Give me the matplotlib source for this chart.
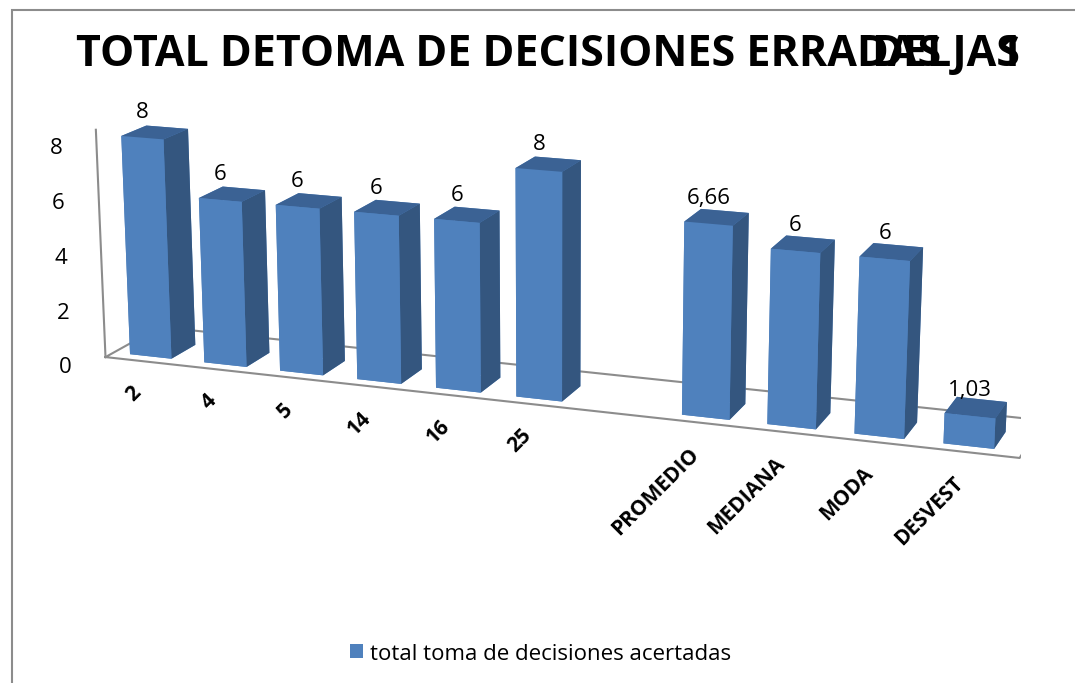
import numpy as np
import matplotlib.pyplot as plt
from matplotlib.patches import Rectangle
from matplotlib.transforms import IdentityTransform
from mpl_toolkits.mplot3d import proj3d

# data
categories = ['2', '4', '5', '14', '16', '25', 'PROMEDIO', 'MEDIANA', 'MODA', 'DESVEST']
values = [8, 6, 6, 6, 6, 8, 6.66, 6, 6, 1.03]
value_labels = ['8', '6', '6', '6', '6', '8', '6,66', '6', '6', '1,03']
slots = [0, 1, 2, 3, 4, 5, 7, 8, 9, 10]   # empty slot between 25 and PROMEDIO
yticks = [0, 2, 4, 6, 8]

plt.rcParams['font.family'] = ['Open Sans', 'DejaVu Sans']

fig = plt.figure(figsize=(10.75, 6.83), dpi=100)
fig.patches.append(Rectangle((12/1075, -0.1), 1.2, 0.1 + (683-10)/683, transform=fig.transFigure,
                             fill=False, edgecolor='#8c8c8c', linewidth=1.5))

w, h = 1.342, 1.407
ax = fig.add_axes([0.503 - w/2, 0.578 - h/2, w, h], projection='3d',
                  proj_type='persp', focal_length=0.55)
ax.set_axis_off()
ax.view_init(elev=15, azim=-70)
ax.set_box_aspect((11, 1.4, 2.7))
ax.set_xlim(-0.5, 10.5)
ax.set_ylim(0, 1)
ax.set_zlim(0, 8)

bw, bd = 0.56, 0.45
yb = 0.15
n = len(values)
xs = np.array(slots) - bw / 2
ys = np.full(n, yb)
zs = np.zeros(n)
front, top, side = '#4F81BD', '#3B6294', '#34567F'
face_cols = []
for _ in range(n):
    # order: -z, +z, -y, +y, -x, +x
    face_cols += [front, top, front, front, front, side]
ax.bar3d(xs, ys, zs, bw, bd, values, color=face_cols, shade=False, edgecolor='none')

# floor outline and value axis line
gray = '#8c8c8c'
x0, x1 = -0.5, 10.6
ax.plot([x0, x1, x1, x0, x0], [0, 0, 1, 1, 0], [0, 0, 0, 0, 0], color=gray, lw=1.5)
ax.plot([x0, x0], [0, 0], [0, 8.3], color=gray, lw=1.5)

fig.canvas.draw()
M = ax.get_proj()


def px(x, y, z):
    x2, y2, _ = proj3d.proj_transform(x, y, z, M)
    return ax.transData.transform((x2, y2))


def put(x, y, z, s, dx=0, dy=0, **kw):
    p = px(x, y, z)
    fig.text(p[0] + dx, p[1] + dy, s, transform=IdentityTransform(), **kw)


for t in yticks:
    put(x0, 0, t, str(t), dx=-40, dy=-10, fontsize=16, ha='center', va='center')

for s, v, lab in zip(slots, values, value_labels):
    put(s, yb, v, lab, dy=15, fontsize=16, ha='center', va='bottom')

for s, c in zip(slots, categories):
    put(s, 0, 0, c, dx=-12, dy=-21, fontsize=15, fontweight='bold', rotation=45,
        rotation_mode='anchor', ha='right', va='top')

fig.text(0.51, 0.92, 'TOTAL DETOMA DE DECISIONES ERRADAS JAS', fontsize=31, fontweight='bold',
         ha='center', va='center')
fig.text(0.81, 0.92, 'DEL', fontsize=31, fontweight='bold', ha='left', va='center')
fig.text(0.928, 0.92, '1', fontsize=31, fontweight='bold', ha='left', va='center')

# legend
fig.patches.append(Rectangle((350/1075, 1 - 658/683), 13/1075, 14/683, transform=fig.transFigure,
                             facecolor=front, edgecolor='none'))
fig.text(370/1075, 1 - 654/683, 'total toma de decisiones acertadas', fontsize=16, ha='left', va='center')

fig.savefig('out.png', dpi=100)
